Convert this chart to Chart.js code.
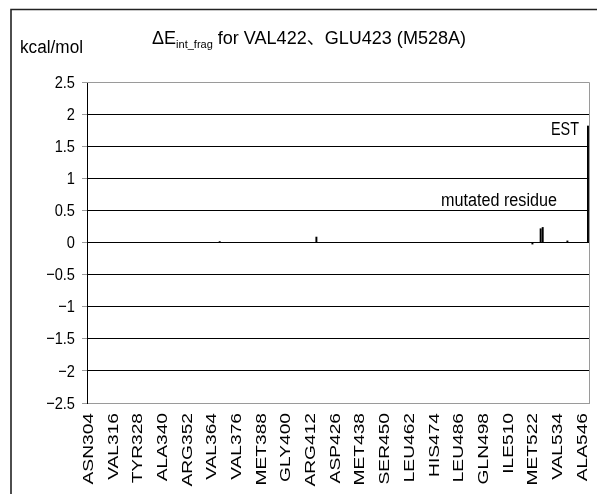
<!DOCTYPE html>
<html>
<head>
<meta charset="utf-8">
<script src="https://cdn.jsdelivr.net/npm/chart.js@4/dist/chart.umd.min.js"></script>
<style>
  html, body { margin: 0; padding: 0; background: #fff; }
  #wrap { width: 597px; height: 494px; }
</style>
</head>
<body>
<div id="wrap"><canvas id="c" width="597" height="494"></canvas></div>
<script>
// Residue labels shown on the x axis (every 12th fragment)
const tickLabels = ['ASN304','VAL316','TYR328','ALA340','ARG352','VAL364','VAL376',
  'MET388','GLY400','ARG412','ASP426','MET438','SER450','LEU462','HIS474','LEU486',
  'GLN498','ILE510','MET522','VAL534','ALA546'];
const labelStep = 12;
const categoryCount = 244;

// Fragments with a non-zero interaction energy change (kcal/mol)
const barIndex = [64, 111, 216, 220, 221, 233, 243];
const barValue = [0.02, 0.09, -0.03, 0.22, 0.24, 0.03, 1.82];

const yMin = -2.5, yMax = 2.5, yStep = 0.5;

const categories = Array.from({ length: categoryCount }, (_, i) =>
  (i % labelStep === 0 && tickLabels[i / labelStep]) ? tickLabels[i / labelStep] : '');
const values = new Array(categoryCount).fill(0);
barIndex.forEach((idx, k) => { values[idx] = barValue[k]; });

const SANS = "'Liberation Sans', Arial, 'Noto Sans CJK JP', sans-serif";

function drawScaled(ctx, text, x, y, font, sx, align, baseline) {
  ctx.save();
  ctx.font = font;
  ctx.translate(x, y);
  ctx.scale(sx, 1);
  ctx.textAlign = align;
  ctx.textBaseline = baseline;
  ctx.fillText(text, 0, 0);
  ctx.restore();
}
function fitScale(ctx, text, font, width) {
  ctx.save(); ctx.font = font;
  const w = ctx.measureText(text).width;
  ctx.restore();
  return width / w;
}

const textPlugin = {
  id: 'textLayer',
  afterDraw(chart) {
    const ctx = chart.ctx;
    const area = chart.chartArea;
    const xs = chart.scales.x, ys = chart.scales.y;
    ctx.save();

    // outer frame
    ctx.strokeStyle = '#222';
    ctx.lineWidth = 1.6;
    ctx.beginPath();
    ctx.moveTo(597, 9.5);
    ctx.lineTo(11, 9.5);
    ctx.lineTo(11, 494);
    ctx.stroke();

    // top and right edges of the plot area
    ctx.strokeStyle = '#9a9a9a';
    ctx.lineWidth = 1;
    ctx.beginPath();
    ctx.moveTo(area.left, Math.round(area.top) + 0.5);
    ctx.lineTo(Math.round(area.right) + 0.5, Math.round(area.top) + 0.5);
    ctx.lineTo(Math.round(area.right) + 0.5, area.bottom);
    ctx.stroke();

    ctx.fillStyle = '#000';

    // y tick labels
    const yFont = '17px ' + SANS;
    ys.ticks.forEach(t => {
      const v = t.value;
      const txt = (v < 0 ? '\u2212' : '') + String(Math.abs(v));
      drawScaled(ctx, txt, 75, ys.getPixelForValue(v) + 1, yFont, 0.86, 'right', 'middle');
    });

    // x tick labels, rotated
    const xFont = '14px ' + SANS;
    categories.forEach((lab, i) => {
      if (!lab) return;
      const x = xs.getPixelForValue(i);
      ctx.save();
      ctx.font = xFont;
      ctx.translate(x + 1, area.bottom + 10);
      ctx.rotate(-Math.PI / 2);
      ctx.scale(1.37, 1);
      ctx.textAlign = 'right';
      ctx.textBaseline = 'middle';
      ctx.fillText(lab, 0, 0);
      ctx.restore();
    });

    // unit label
    const uFont = '18px ' + SANS;
    drawScaled(ctx, 'kcal/mol', 20, 48, uFont, fitScale(ctx, 'kcal/mol', uFont, 63), 'left', 'middle');

    // title with subscript
    const tFont = '18px ' + SANS;
    const sFont = '11px ' + SANS;
    const p1 = '\u0394E', p2 = 'int_frag', p3 = ' for VAL422\u3001GLU423 (M528A)';
    ctx.save();
    ctx.font = tFont; const w1 = ctx.measureText(p1).width, w3 = ctx.measureText(p3).width;
    ctx.font = sFont; const w2 = ctx.measureText(p2).width;
    ctx.restore();
    const tsx = 314 / (w1 + w2 + w3);
    let tx = 152;
    drawScaled(ctx, p1, tx, 44, tFont, tsx, 'left', 'alphabetic'); tx += w1 * tsx;
    drawScaled(ctx, p2, tx, 48, sFont, tsx, 'left', 'alphabetic'); tx += w2 * tsx;
    drawScaled(ctx, p3, tx, 44, tFont, tsx, 'left', 'alphabetic');

    // annotations next to the bars
    const aFont = '18px ' + SANS;
    const estX = xs.getPixelForValue(barIndex[barIndex.length - 1]);
    const estY = ys.getPixelForValue(barValue[barValue.length - 1]);
    drawScaled(ctx, 'EST', estX - 9, estY + 4, aFont, fitScale(ctx, 'EST', aFont, 28), 'right', 'middle');
    const zeroY = ys.getPixelForValue(0);
    drawScaled(ctx, 'mutated residue', 557, zeroY - 41, aFont,
      fitScale(ctx, 'mutated residue', aFont, 116), 'right', 'middle');

    ctx.restore();
  }
};

new Chart(document.getElementById('c'), {
  type: 'bar',
  data: {
    labels: categories,
    datasets: [{
      data: values,
      backgroundColor: '#000',
      borderWidth: 0,
      barPercentage: 1,
      categoryPercentage: 0.95
    }]
  },
  options: {
    responsive: false,
    animation: false,
    events: [],
    layout: { padding: { left: 82, right: 8, top: 82, bottom: 83 } },
    plugins: { legend: { display: false }, tooltip: { enabled: false }, title: { display: false } },
    scales: {
      x: {
        type: 'category',
        offset: true,
        grid: { display: false },
        border: { display: true, color: '#9a9a9a', width: 1 },
        ticks: { display: false }
      },
      y: {
        min: yMin, max: yMax,
        ticks: { display: false, stepSize: yStep },
        grid: {
          color: c => (c.tick && (c.tick.value === yMax || c.tick.value === yMin)) ? '#9a9a9a' : '#000',
          tickColor: '#9a9a9a',
          tickLength: 5,
          lineWidth: 1
        },
        border: { display: true, color: '#000', width: 1 }
      }
    }
  },
  plugins: [textPlugin]
});
</script>
</body>
</html>
